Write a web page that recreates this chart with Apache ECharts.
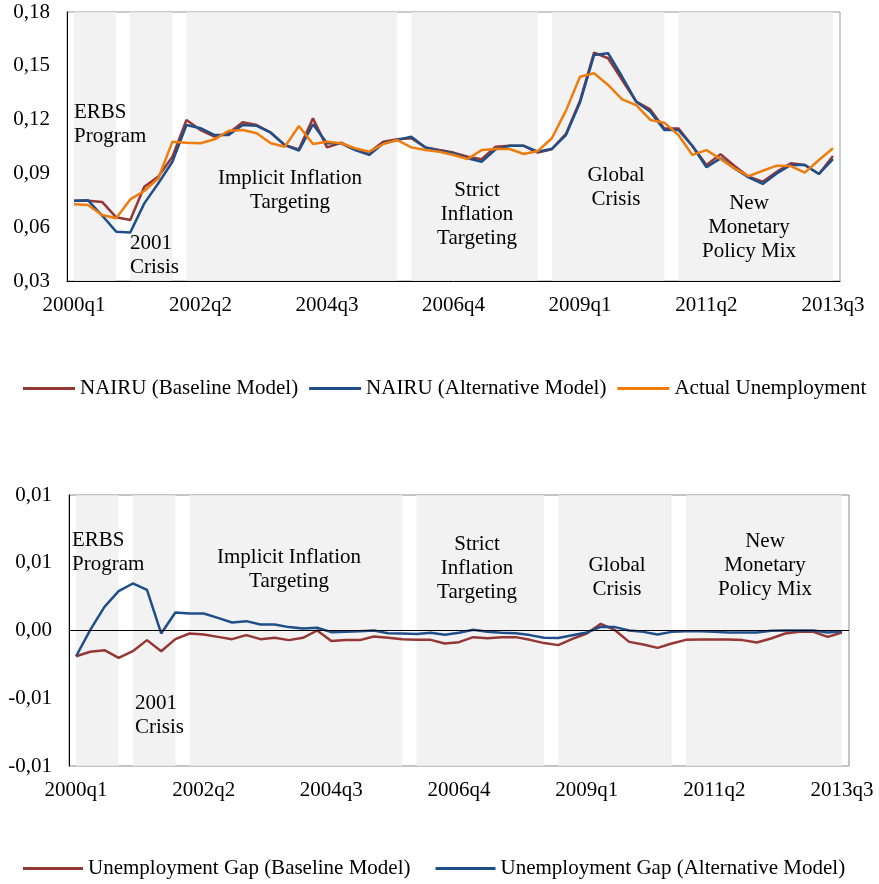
<!DOCTYPE html>
<html>
<head>
<meta charset="utf-8">
<script src="https://cdn.jsdelivr.net/npm/echarts@6/dist/echarts.min.js"></script>
<style>
  html, body { margin: 0; padding: 0; background: #fff; }
  #main { width: 879px; height: 884px; }
</style>
</head>
<body>
<div id="main"></div>
<script>
// quarters 2000q1 .. 2013q3
const quarters = [
  '2000q1','2000q2','2000q3','2000q4','2001q1','2001q2','2001q3','2001q4',
  '2002q1','2002q2','2002q3','2002q4','2003q1','2003q2','2003q3','2003q4',
  '2004q1','2004q2','2004q3','2004q4','2005q1','2005q2','2005q3','2005q4',
  '2006q1','2006q2','2006q3','2006q4','2007q1','2007q2','2007q3','2007q4',
  '2008q1','2008q2','2008q3','2008q4','2009q1','2009q2','2009q3','2009q4',
  '2010q1','2010q2','2010q3','2010q4','2011q1','2011q2','2011q3','2011q4',
  '2012q1','2012q2','2012q3','2012q4','2013q1','2013q2','2013q3'
]

// top panel
const nairuBaseline = [
  0.0748, 0.0748, 0.0741, 0.0655, 0.0640, 0.0826, 0.0882, 0.0993, 0.1198, 0.1142,
  0.1105, 0.1124, 0.1185, 0.1170, 0.1127, 0.1058, 0.1034, 0.1207, 0.1045, 0.1071,
  0.1034, 0.1016, 0.1077, 0.1090, 0.1096, 0.1045, 0.1030, 0.1016, 0.0993, 0.0979,
  0.1049, 0.1054, 0.1054, 0.1016, 0.1035, 0.1120, 0.1305, 0.1573, 0.1542, 0.1421,
  0.1300, 0.1257, 0.1151, 0.1151, 0.1053, 0.0947, 0.1007, 0.0941, 0.0882, 0.0854,
  0.0909, 0.0956, 0.0947, 0.0897, 0.0997
]
const nairuAlternative = [
  0.0748, 0.0750, 0.0665, 0.0575, 0.0570, 0.0733, 0.0845, 0.0965, 0.1170, 0.1152,
  0.1114, 0.1114, 0.1170, 0.1165, 0.1127, 0.1058, 0.1027, 0.1174, 0.1068, 0.1068,
  0.1030, 0.1003, 0.1068, 0.1086, 0.1105, 0.1045, 0.1027, 0.1012, 0.0984, 0.0965,
  0.1034, 0.1054, 0.1054, 0.1021, 0.1037, 0.1114, 0.1295, 0.1560, 0.1570, 0.1439,
  0.1300, 0.1244, 0.1142, 0.1142, 0.1053, 0.0934, 0.0984, 0.0928, 0.0878, 0.0841,
  0.0900, 0.0947, 0.0947, 0.0897, 0.0980
]
const actualUnemployment = [
  0.0728, 0.0724, 0.0668, 0.0650, 0.0755, 0.0802, 0.0873, 0.1077, 0.1071, 0.1068,
  0.1090, 0.1138, 0.1142, 0.1124, 0.1068, 0.1049, 0.1164, 0.1064, 0.1077, 0.1068,
  0.1040, 0.1021, 0.1064, 0.1086, 0.1045, 0.1030, 0.1021, 0.1003, 0.0980, 0.1030,
  0.1036, 0.1036, 0.1008, 0.1025, 0.1096, 0.1250, 0.1439, 0.1458, 0.1393, 0.1313,
  0.1281, 0.1198, 0.1183, 0.1114, 0.1003, 0.1030, 0.0980, 0.0928, 0.0885, 0.0915,
  0.0943, 0.0941, 0.0904, 0.0975, 0.1040
]

// bottom panel
const gapBaseline = [
  -0.00190, -0.00157, -0.00145, -0.00202, -0.00153, -0.00071, -0.00153, -0.00064, -0.00022, -0.00030,
  -0.00047, -0.00064, -0.00034, -0.00064, -0.00054, -0.00071, -0.00054, 0.00000, -0.00078, -0.00071,
  -0.00071, -0.00044, -0.00054, -0.00064, -0.00069, -0.00069, -0.00096, -0.00086, -0.00049, -0.00057,
  -0.00049, -0.00049, -0.00069, -0.00093, -0.00108, -0.00062, -0.00022, 0.00049, 0.00002, -0.00084,
  -0.00103, -0.00128, -0.00096, -0.00069, -0.00066, -0.00066, -0.00066, -0.00071, -0.00089, -0.00059,
  -0.00022, -0.00010, -0.00010, -0.00047, -0.00015
]
const gapAlternative = [
  -0.00190, 0.00005, 0.00175, 0.00290, 0.00347, 0.00300, -0.00022, 0.00133, 0.00125, 0.00125,
  0.00093, 0.00059, 0.00069, 0.00044, 0.00044, 0.00025, 0.00015, 0.00020, -0.00012, -0.00010,
  -0.00005, 0.00000, -0.00020, -0.00022, -0.00025, -0.00017, -0.00032, -0.00017, 0.00005, -0.00010,
  -0.00017, -0.00020, -0.00034, -0.00054, -0.00056, -0.00035, -0.00015, 0.00027, 0.00025, 0.00000,
  -0.00010, -0.00030, -0.00010, -0.00005, -0.00005, -0.00010, -0.00015, -0.00015, -0.00015, -0.00002,
  0.00000, 0.00000, 0.00000, -0.00015, -0.00005
]

// policy periods (shaded), from / to quarter
const periodStart = ['2000q1', '2001q1', '2002q1', '2006q1', '2008q3', '2010q4']
const periodEnd   = ['2000q4', '2001q4', '2005q4', '2008q2', '2010q3', '2013q3']

const FONT = 'Liberation Serif'
const colRed = '#953735'
const colBlue = '#1f4e89'
const colOrange = '#ee7d0e'

const shadeAreas = periodStart.map((s, i) => [{ xAxis: s }, { xAxis: periodEnd[i] }])

// excel-ish rounding of the tick labels, comma decimal
function fmt(v) {
  const r = Math.sign(v) * Math.round(Math.abs(v) * 100 + 1e-9) / 100
  if (r === 0) return '0,00'
  return r.toFixed(2).replace('.', ',')
}

const myChart = echarts.init(document.getElementById('main'))

const labelStyle = { color: '#000', fontFamily: FONT, fontSize: 21 }

function note(txt, x, y, align) {
  return {
    type: 'text', x: x, y: y, z: 10,
    style: {
      text: txt, fill: '#000', font: '21px "' + FONT + '"',
      align: align, verticalAlign: 'top', lineHeight: 24
    }
  }
}

const option = {
  animation: false,
  backgroundColor: '#fff',
  textStyle: { fontFamily: FONT },
  grid: [
    { left: 67, top: 12, width: 773, height: 269, show: true, borderColor: '#9a9a9a', borderWidth: 1 },
    { left: 69, top: 495, width: 780, height: 271, show: true, borderColor: '#8a8a8a', borderWidth: 1 }
  ],
  legend: [
    {
      left: 18, top: 373, icon: 'rect', itemWidth: 52, itemHeight: 3, itemGap: 11,
      textStyle: labelStyle, data: ['NAIRU (Baseline Model)', 'NAIRU (Alternative Model)', 'Actual Unemployment']
    },
    {
      left: 18, top: 853, icon: 'rect', itemWidth: 60, itemHeight: 3, itemGap: 25,
      textStyle: labelStyle, data: ['Unemployment Gap (Baseline Model)', 'Unemployment Gap (Alternative Model)']
    }
  ],
  xAxis: [
    {
      type: 'category', gridIndex: 0, data: quarters, boundaryGap: true, z: 5,
      axisLine: { onZero: false, lineStyle: { color: '#000', width: 1 } },
      axisTick: { show: false },
      axisLabel: Object.assign({ interval: 8, margin: 14 }, labelStyle),
      splitLine: { show: false }
    },
    {
      type: 'category', gridIndex: 1, data: quarters, boundaryGap: true, z: 5,
      axisLine: { show: false, onZero: false },
      axisTick: { show: false },
      axisLabel: Object.assign({ interval: 8, margin: 14 }, labelStyle),
      splitLine: { show: false }
    }
  ],
  yAxis: [
    {
      type: 'value', gridIndex: 0, min: 0.03, max: 0.18, interval: 0.03, z: 5,
      axisLine: { show: true, lineStyle: { color: '#000', width: 1 } },
      axisTick: { show: false },
      splitLine: { show: false },
      axisLabel: Object.assign({ margin: 17, formatter: fmt }, labelStyle)
    },
    {
      type: 'value', gridIndex: 1, min: -0.01, max: 0.01, interval: 0.005, z: 5,
      axisLine: { show: true, lineStyle: { color: '#000', width: 1 } },
      axisTick: { show: false },
      splitLine: { show: false },
      axisLabel: Object.assign({ margin: 17, formatter: fmt }, labelStyle)
    }
  ],
  series: [
    // shading behind the lines
    {
      name: 'shadeTop', type: 'line', xAxisIndex: 0, yAxisIndex: 0, data: [], z: 1, silent: true,
      markArea: { silent: true, itemStyle: { color: 'rgba(238,238,238,0.75)' }, data: shadeAreas }
    },
    {
      name: 'shadeBottom', type: 'line', xAxisIndex: 1, yAxisIndex: 1, data: [], z: 1, silent: true,
      markArea: { silent: true, itemStyle: { color: 'rgba(238,238,238,0.75)' }, data: shadeAreas },
      markLine: {
        silent: true, symbol: 'none', label: { show: false },
        lineStyle: { color: '#000', width: 1, type: 'solid' },
        data: [{ yAxis: 0 }]
      }
    },
    {
      name: 'NAIRU (Baseline Model)', type: 'line', xAxisIndex: 0, yAxisIndex: 0,
      data: nairuBaseline, symbol: 'none', z: 3, color: colRed, lineStyle: { width: 2.5, color: colRed }
    },
    {
      name: 'NAIRU (Alternative Model)', type: 'line', xAxisIndex: 0, yAxisIndex: 0,
      data: nairuAlternative, symbol: 'none', z: 3, color: colBlue, lineStyle: { width: 2.5, color: colBlue }
    },
    {
      name: 'Actual Unemployment', type: 'line', xAxisIndex: 0, yAxisIndex: 0,
      data: actualUnemployment, symbol: 'none', z: 3, color: colOrange, lineStyle: { width: 2.5, color: colOrange }
    },
    {
      name: 'Unemployment Gap (Baseline Model)', type: 'line', xAxisIndex: 1, yAxisIndex: 1,
      data: gapBaseline, symbol: 'none', z: 3, color: colRed, lineStyle: { width: 2.5, color: colRed }
    },
    {
      name: 'Unemployment Gap (Alternative Model)', type: 'line', xAxisIndex: 1, yAxisIndex: 1,
      data: gapAlternative, symbol: 'none', z: 3, color: colBlue, lineStyle: { width: 2.5, color: colBlue }
    }
  ],
  graphic: [
    // top panel
    note('ERBS\nProgram', 74, 100, 'left'),
    note('2001\nCrisis', 130, 231, 'left'),
    note('Implicit Inflation\nTargeting', 290, 166, 'center'),
    note('Strict\nInflation\nTargeting', 477, 178, 'center'),
    note('Global\nCrisis', 616, 163, 'center'),
    note('New\nMonetary\nPolicy Mix', 749, 191, 'center'),
    // bottom panel
    note('ERBS\nProgram', 72, 528, 'left'),
    note('2001\nCrisis', 135, 691, 'left'),
    note('Implicit Inflation\nTargeting', 289, 545, 'center'),
    note('Strict\nInflation\nTargeting', 477, 532, 'center'),
    note('Global\nCrisis', 617, 553, 'center'),
    note('New\nMonetary\nPolicy Mix', 765, 529, 'center')
  ]
}

myChart.setOption(option)
</script>
</body>
</html>
